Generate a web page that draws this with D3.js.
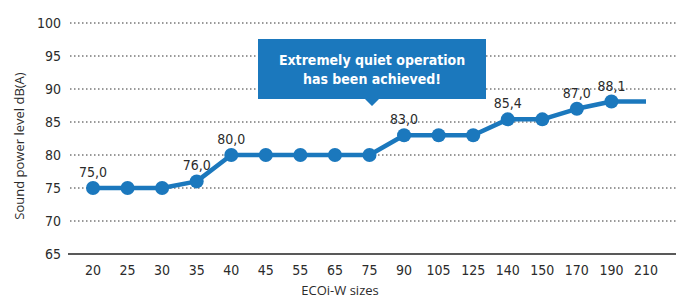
<!DOCTYPE html>
<html>
<head>
<meta charset="utf-8">
<script src="https://cdn.jsdelivr.net/npm/d3@7"></script>
<style>
  body { margin: 0; background: #fff; }
  svg { display: block; font-family: "DejaVu Sans Condensed", "Roboto", sans-serif; }
  .tick-label { font-size: 14px; fill: #2b2b2b; }
  .value-label { font-size: 14px; fill: #2b2b2b; }
  .axis-title { font-family: "Open Sans", sans-serif; font-size: 13px; fill: #2b2b2b; }
</style>
</head>
<body>
<svg width="681" height="298"></svg>
<script>
var sizes = ["20", "25", "30", "35", "40", "45", "55", "65", "75", "90", "105", "125", "140", "150", "170", "190", "210"];
var levels = [75, 75, 75, 76, 80, 80, 80, 80, 80, 83, 83, 83, 85.4, 85.4, 87, 88.1, 88.1];
var shownLabels = ["75,0", "", "", "76,0", "80,0", "", "", "", "", "83,0", "", "", "85,4", "", "87,0", "88,1", ""];
var yTicks = [65, 70, 75, 80, 85, 90, 95, 100];
var calloutText = ["Extremely quiet operation", "has been achieved!"];

var svg = d3.select("svg"),
    width = +svg.attr("width"),
    height = +svg.attr("height");

var blue = "#1b78bd";

var x = d3.scalePoint()
    .domain(sizes)
    .range([93, 646]);

var y = d3.scaleLinear()
    .domain([65, 100])
    .range([254, 23]);

// grid lines (dotted)
svg.append("g")
    .selectAll("line")
    .data(yTicks.filter(function(d) { return d > 65; }))
    .enter().append("line")
    .attr("x1", 70)
    .attr("x2", 676)
    .attr("y1", function(d) { return y(d); })
    .attr("y2", function(d) { return y(d); })
    .attr("stroke", "#333")
    .attr("stroke-width", 1)
    .attr("stroke-dasharray", "1.5,2.5");

// baseline
svg.append("line")
    .attr("x1", 68)
    .attr("x2", 676)
    .attr("y1", y(65))
    .attr("y2", y(65))
    .attr("stroke", "#222")
    .attr("stroke-width", 1.5);

// y tick labels
svg.append("g")
    .selectAll("text")
    .data(yTicks)
    .enter().append("text")
    .attr("class", "tick-label")
    .attr("x", 61)
    .attr("y", function(d) { return y(d); })
    .attr("dy", "0.35em")
    .attr("text-anchor", "end")
    .text(function(d) { return d; });

// x tick labels
svg.append("g")
    .selectAll("text")
    .data(sizes)
    .enter().append("text")
    .attr("class", "tick-label")
    .attr("x", function(d) { return x(d); })
    .attr("y", 275)
    .attr("text-anchor", "middle")
    .text(function(d) { return d; });

// axis titles
svg.append("text")
    .attr("class", "axis-title")
    .attr("transform", "translate(24,146) rotate(-90)")
    .attr("text-anchor", "middle")
    .text("Sound power level dB(A)");

svg.append("text")
    .attr("class", "axis-title")
    .attr("x", 340)
    .attr("y", 295)
    .attr("text-anchor", "middle")
    .text("ECOi-W sizes");

// line
var line = d3.line()
    .x(function(d, i) { return x(sizes[i]); })
    .y(function(d) { return y(d); });

svg.append("path")
    .datum(levels)
    .attr("fill", "none")
    .attr("stroke", blue)
    .attr("stroke-width", 4.5)
    .attr("stroke-linejoin", "round")
    .attr("d", line);

// markers (last size has no marker)
svg.append("g")
    .selectAll("circle")
    .data(levels.slice(0, levels.length - 1))
    .enter().append("circle")
    .attr("cx", function(d, i) { return x(sizes[i]); })
    .attr("cy", function(d) { return y(d); })
    .attr("r", 7)
    .attr("fill", blue);

// value labels
svg.append("g")
    .selectAll("text")
    .data(levels)
    .enter().append("text")
    .attr("class", "value-label")
    .attr("x", function(d, i) { return x(sizes[i]); })
    .attr("y", function(d) { return y(d) - 11; })
    .attr("text-anchor", "middle")
    .text(function(d, i) { return shownLabels[i]; });

// callout
var callout = svg.append("g");
callout.append("path")
    .attr("d", "M258,39 H486 V99 H379 L372,106 L365,99 H258 Z")
    .attr("fill", blue);

callout.selectAll("text")
    .data(calloutText)
    .enter().append("text")
    .attr("x", 372)
    .attr("y", function(d, i) { return 65 + i * 18.5; })
    .attr("text-anchor", "middle")
    .attr("fill", "#fff")
    .attr("font-size", "14px")
    .attr("font-weight", "bold")
    .text(function(d) { return d; });
</script>
</body>
</html>
